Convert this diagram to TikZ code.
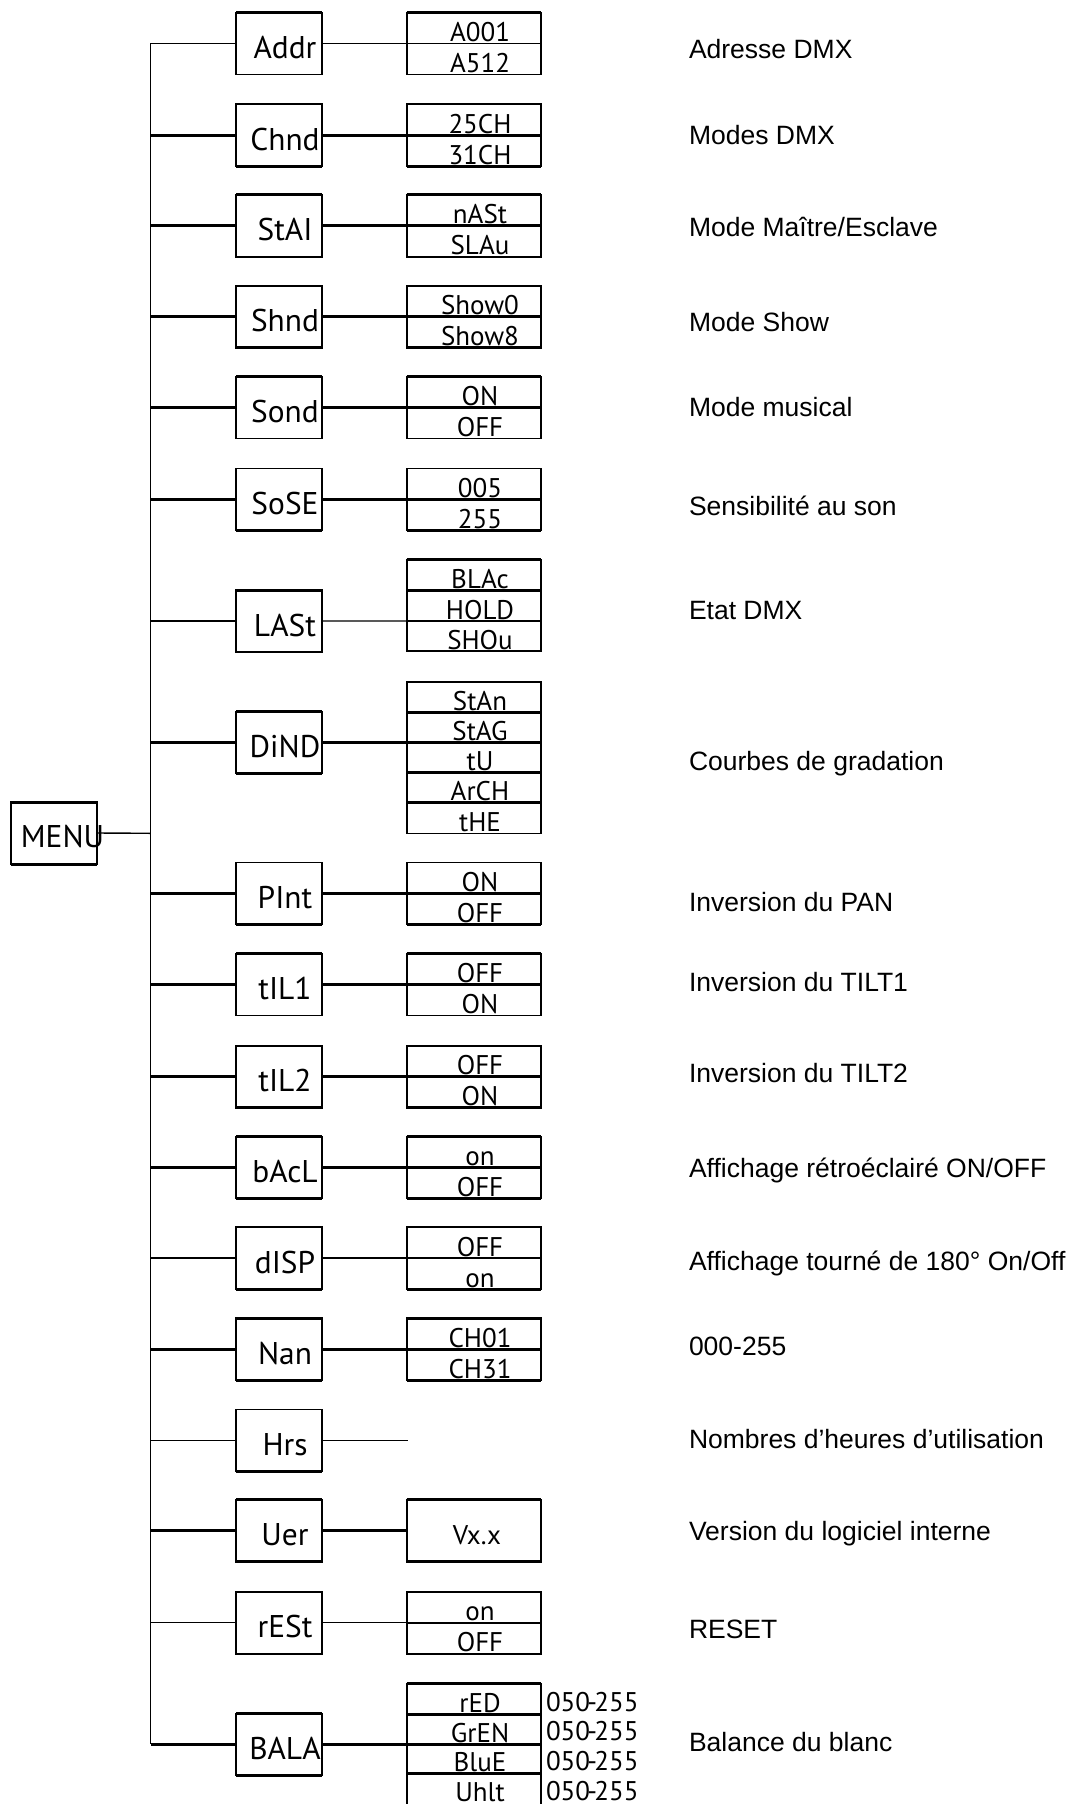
\documentclass[tikz,border=0pt]{standalone}
\usepackage{fontspec}
\setmainfont{Liberation Sans}
\newfontfamily\lcdfont{PT Sans}
\newcommand{\hk}[2]{\draw[#1] (#2 west) -- (#2 east);}
\newcommand{\mainrow}[3]{%
  \node[mainbox] (#1) at (279,#2) {};
  \node[mlab] (#1-t) at (285,{(#2)+15}) {#3};
  \coordinate (#1-j) at (150.5,#2);
}
\newcommand{\vcell}[4]{%
  \node[valcell, minimum height={((#3)-(#2))*0.5pt}] (#1) at (473.7,{((#2)+(#3))/2}) {};
  \node[vlab] (#1-t) at (480,{(#3)-2}) {#4};
}
\newcommand{\vtwo}[4]{\vcell{#1-a}{(#2)-31}{#2}{#3}\vcell{#1-b}{#2}{(#2)+31}{#4}}
\begin{document}
\begin{tikzpicture}[x=0.5pt,y=-0.5pt,
  every node/.style={inner sep=0pt, outer sep=0pt},
  mainbox/.style={draw, line width=0.8pt, minimum width=43pt, minimum height=31pt},
  valcell/.style={draw, line width=0.8pt, minimum width=67pt},
  mlab/.style={anchor=base, font=\lcdfont\fontsize{15.7pt}{18pt}\selectfont},
  vlab/.style={anchor=base, font=\lcdfont\fontsize{13.5pt}{16pt}\selectfont},
  desc/.style={anchor=base west, font=\fontsize{13.25pt}{16pt}\selectfont},
  tn/.style={line width=0.7pt},
  tk/.style={line width=1.5pt},
]
\useasboundingbox (0,0) rectangle (1074,1804);

% MENU
\node[mainbox] (menu) at (54,833) {};
\node[mlab] (menu-t) at (62.5,847) {MENU};
\hk{tk}{menu.north} \hk{tk}{menu.south}

% Addr
\mainrow{addr}{43.3}{Addr}
\vtwo{addr}{43.3}{A001}{A512}
\hk{tk}{addr.north} \hk{tk}{addr-a.north}
\draw[tn] (addr-j) -- (addr.west);
\draw[tn] (addr.east) -- (addr-a.south west);
\node[desc] (addr-d) at (689,58.3) {Adresse DMX};

% Chnd
\mainrow{chnd}{135}{Chnd}
\vtwo{chnd}{135}{25CH}{31CH}
\hk{tk}{chnd.south} \hk{tk}{chnd-a.south} \hk{tk}{chnd-b.south}
\draw[tk] (chnd-j) -- (chnd.west);
\draw[tk] (chnd.east) -- (chnd-a.south west);
\node[desc] (chnd-d) at (689,144.3) {Modes DMX};

% StAI
\mainrow{stal}{225.7}{StAI}
\vtwo{stal}{225.7}{nASt}{SLAu}
\hk{tk}{stal.north} \hk{tk}{stal-a.north} \hk{tk}{stal-a.south}
\draw[tk] (stal-j) -- (stal.west);
\draw[tk] (stal.east) -- (stal-a.south west);
\node[desc] (stal-d) at (689,236) {Mode Maître/Esclave};

% Shnd
\mainrow{shnd}{316.7}{Shnd}
\vtwo{shnd}{316.7}{Show0}{Show8}
\hk{tk}{shnd.south} \hk{tk}{shnd-a.south} \hk{tk}{shnd-b.south}
\draw[tk] (shnd-j) -- (shnd.west);
\draw[tk] (shnd.east) -- (shnd-a.south west);
\node[desc] (shnd-d) at (689,331) {Mode Show};

% Sond
\mainrow{sond}{407.3}{Sond}
\vtwo{sond}{407.3}{ON}{OFF}
\hk{tk}{sond.north} \hk{tk}{sond-a.north} \hk{tk}{sond-a.south}
\draw[tk] (sond-j) -- (sond.west);
\draw[tk] (sond.east) -- (sond-a.south west);
\node[desc] (sond-d) at (689,416.7) {Mode musical};

% SoSE
\mainrow{sose}{499.3}{SoSE}
\vtwo{sose}{499.3}{005}{255}
\hk{tk}{sose.south} \hk{tk}{sose-a.south} \hk{tk}{sose-b.south}
\draw[tk] (sose-j) -- (sose.west);
\draw[tk] (sose.east) -- (sose-a.south west);
\node[desc] (sose-d) at (689,515) {Sensibilité au son};

% LASt
\mainrow{last}{621}{LASt}
\vcell{last-a}{559.5}{590.2}{BLAc}
\vcell{last-b}{590.2}{621}{HOLD}
\vcell{last-c}{621}{651}{SHOu}
\hk{tk}{last.north} \hk{tk}{last-a.north} \hk{tk}{last-a.south}
\draw[tn] (last-j) -- (last.west);
\draw[tn] (last.east) -- (last-b.south west);
\node[desc] (last-d) at (689,619.3) {Etat DMX};

% DiND
\mainrow{dind}{742.3}{DiND}
\vcell{dind-a}{682.1}{712.2}{StAn}
\vcell{dind-b}{712.2}{742.3}{StAG}
\vcell{dind-c}{742.3}{772.4}{tU}
\vcell{dind-d}{772.4}{802.5}{ArCH}
\vcell{dind-e}{802.5}{833.3}{tHE}
\hk{tk}{dind.north} \hk{tk}{dind.south}
\hk{tk}{dind-a.south} \hk{tk}{dind-b.south} \hk{tk}{dind-c.south} \hk{tk}{dind-d.south}
\draw[tk] (dind-j) -- (dind.west);
\draw[tk] (dind.east) -- (dind-b.south west);
\node[desc] (dind-dd) at (689,770) {Courbes de gradation};

% PInt
\mainrow{pint}{893.3}{PInt}
\vtwo{pint}{893.3}{ON}{OFF}
\hk{tk}{pint.south} \hk{tk}{pint-a.south} \hk{tk}{pint-b.south}
\draw[tk] (pint-j) -- (pint.west);
\draw[tk] (pint.east) -- (pint-a.south west);
\node[desc] (pint-d) at (689,911) {Inversion du PAN};

% tIL1
\mainrow{tila}{984.3}{tIL1}
\vtwo{tila}{984.3}{OFF}{ON}
\hk{tk}{tila.north} \hk{tk}{tila-a.north} \hk{tk}{tila-a.south}
\draw[tk] (tila-j) -- (tila.west);
\draw[tk] (tila.east) -- (tila-a.south west);
\node[desc] (tila-d) at (689,991) {Inversion du TILT1};

% tIL2
\mainrow{tilb}{1076.7}{tIL2}
\vtwo{tilb}{1076.7}{OFF}{ON}
\hk{tk}{tilb.south} \hk{tk}{tilb-a.south} \hk{tk}{tilb-b.south}
\draw[tk] (tilb-j) -- (tilb.west);
\draw[tk] (tilb.east) -- (tilb-a.south west);
\node[desc] (tilb-d) at (689,1082.7) {Inversion du TILT2};

% bAcL
\mainrow{bacl}{1167.3}{bAcL}
\vtwo{bacl}{1167.3}{on}{OFF}
\hk{tk}{bacl.north} \hk{tk}{bacl.south} \hk{tk}{bacl-a.north} \hk{tk}{bacl-a.south} \hk{tk}{bacl-b.south}
\draw[tk] (bacl-j) -- (bacl.west);
\draw[tk] (bacl.east) -- (bacl-a.south west);
\node[desc] (bacl-d) at (689,1177.7) {Affichage rétroéclairé ON/OFF};

% dISP
\mainrow{disp}{1258}{dISP}
\vtwo{disp}{1258}{OFF}{on}
\hk{tk}{disp.south} \hk{tk}{disp-b.south}
\draw[tn] (disp-j) -- (disp.west);
\draw[tn] (disp.east) -- (disp-a.south west);
\node[desc] (disp-d) at (689,1270) {Affichage tourné de 180° On/Off};

% Nan
\mainrow{nan}{1349}{Nan}
\vtwo{nan}{1349}{CH01}{CH31}
\hk{tk}{nan.north} \hk{tk}{nan.south} \hk{tk}{nan-a.north} \hk{tk}{nan-a.south} \hk{tk}{nan-b.south}
\draw[tk] (nan-j) -- (nan.west);
\draw[tk] (nan.east) -- (nan-a.south west);
\node[desc] (nan-d) at (689,1355) {000-255};

% Hrs
\mainrow{hrs}{1440.3}{Hrs}
\hk{tk}{hrs.south}
\coordinate (hrs-end) at (407.5,1440.3);
\draw[tn] (hrs-j) -- (hrs.west);
\draw[tn] (hrs.east) -- (hrs-end);
\node[desc] (hrs-d) at (689,1448.3) {Nombres d’heures d’utilisation};

% Uer
\mainrow{uer}{1530.7}{Uer}
\node[valcell, minimum height=31pt] (uer-v) at (473.7,1530.7) {};
\node[vlab] (uer-vt) at (477,1544.3) {Vx.x};
\hk{tk}{uer.north} \hk{tk}{uer.south} \hk{tk}{uer-v.north} \hk{tk}{uer-v.south}
\draw[tk] (uer-j) -- (uer.west);
\draw[tk] (uer.east) -- (uer-v.west);
\node[desc] (uer-d) at (689,1540) {Version du logiciel interne};

% rESt
\mainrow{rest}{1622.7}{rESt}
\vtwo{rest}{1622.7}{on}{OFF}
\draw[tn] (rest-j) -- (rest.west);
\draw[tn] (rest.east) -- (rest-a.south west);
\node[desc] (rest-d) at (689,1638.3) {RESET};

% BALA
\mainrow{bala}{1744.3}{BALA}
\vcell{bala-a}{1683.3}{1714}{rED}
\vcell{bala-b}{1714}{1744.3}{GrEN}
\vcell{bala-c}{1744.3}{1773.3}{BluE}
\node[valcell, minimum height=16pt] (bala-d) at (473.7,1789.3) {};
\node[vlab] (bala-d-t) at (480,1801) {Uhlt};
\hk{tk}{bala.north} \hk{tk}{bala.south}
\hk{tk}{bala-a.north} \hk{tk}{bala-a.south} \hk{tk}{bala-b.south} \hk{tk}{bala-c.south}
\draw[tk] (bala-j) -- (bala.west);
\draw[tk] (bala.east) -- (bala-b.south west);
\node[vlab, anchor=base west] (bala-r1) at (546,1711) {050\kern-.1em-\kern-.1em255};
\node[vlab, anchor=base west] (bala-r2) at (546,1740) {050\kern-.1em-\kern-.1em255};
\node[vlab, anchor=base west] (bala-r3) at (546,1770) {050\kern-.1em-\kern-.1em255};
\node[vlab, anchor=base west] (bala-r4) at (546,1800) {050\kern-.1em-\kern-.1em255};
\node[desc] (bala-dd) at (689,1751) {Balance du blanc};

% trunk and MENU link
\draw[line width=0.8pt] (addr-j) -- (bala-j);
\coordinate (menu-j) at (150.5,833.3);
\draw[tn] (menu.east) -- (menu-j);
\end{tikzpicture}
\end{document}
